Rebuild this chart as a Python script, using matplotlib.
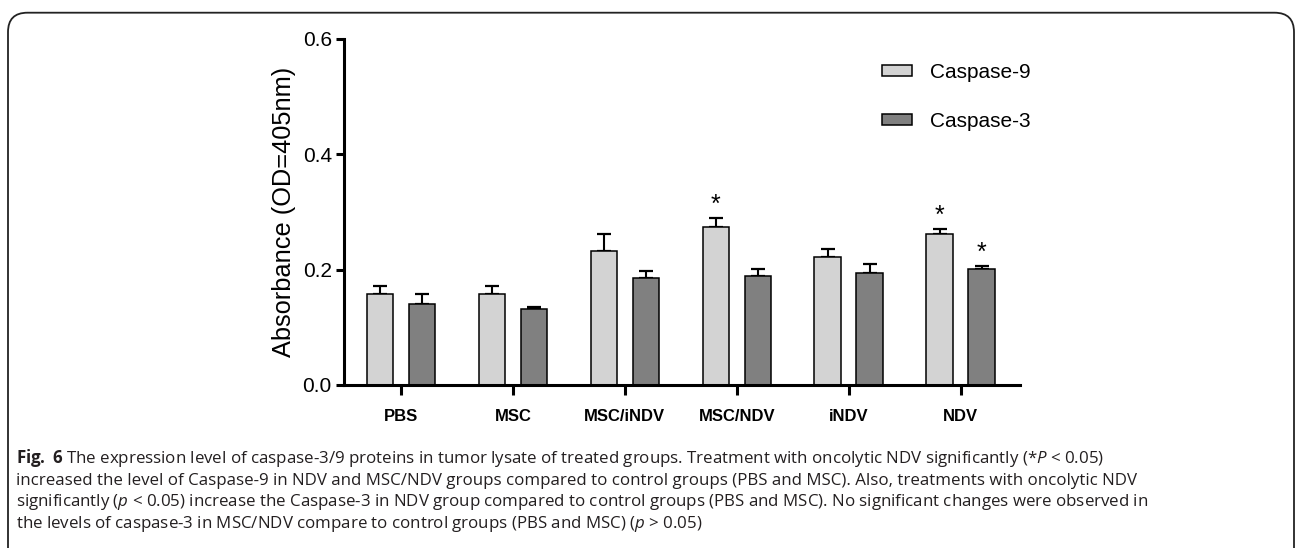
#!/usr/bin/env python3

"""Caspase-3/9 absorbance in tumour lysate of the treated groups (Fig. 6)."""

import numpy as np
import matplotlib
matplotlib.use('Agg')
import matplotlib.pyplot as plt
from matplotlib.patches import FancyBboxPatch

# Data
groups = ['PBS', 'MSC', 'MSC/iNDV', 'MSC/NDV', 'iNDV', 'NDV']
cas9 = [0.158, 0.158, 0.232, 0.274, 0.222, 0.261]
cas9Err = [0.013, 0.013, 0.029, 0.016, 0.013, 0.010]
cas3 = [0.141, 0.131, 0.185, 0.189, 0.195, 0.202]
cas3Err = [0.016, 0.005, 0.013, 0.012, 0.015, 0.005]
cas9Sig = [False, False, False, True, False, True]
cas3Sig = [False, False, False, False, False, True]
yTicks = [0.0, 0.2, 0.4, 0.6]

captionLines = [
    r'$\mathbf{Fig.}$ $\mathbf{6}$ The expression level of caspase-3/9 proteins in tumor lysate of treated groups. '
    r'Treatment with oncolytic NDV significantly (*$P$ < 0.05)',
    'increased the level of Caspase-9 in NDV and MSC/NDV groups compared to control groups (PBS and MSC). '
    'Also, treatments with oncolytic NDV',
    r'significantly ($p$ < 0.05) increase the Caspase-3 in NDV group compared to control groups (PBS and MSC). '
    'No significant changes were observed in',
    r'the levels of caspase-3 in MSC/NDV compare to control groups (PBS and MSC) ($p$ > 0.05)',
]

plt.rcParams['font.family'] = ['Liberation Sans', 'DejaVu Sans']
plt.rcParams['mathtext.fontset'] = 'custom'
plt.rcParams['mathtext.rm'] = 'Open Sans'
plt.rcParams['mathtext.it'] = 'Open Sans:italic'
plt.rcParams['mathtext.bf'] = 'Open Sans:bold'

W, H = 1295, 548
fig = plt.figure(figsize=(W / 100, H / 100), dpi=100)
ax = fig.add_axes([344 / W, 1 - 385 / H, (1020 - 344) / W, (385 - 39) / H])

x = np.arange(len(groups))
off = 0.1875
width = 0.238
light = '#d3d3d3'
dark = '#808080'

ax.bar(x - off, cas9, width, color=light, edgecolor='black', linewidth=1.1,
       label='Caspase-9', zorder=2)
ax.bar(x + off, cas3, width, color=dark, edgecolor='black', linewidth=1.1,
       label='Caspase-3', zorder=2)

# One-sided (upper) error bars
ax.errorbar(x - off, cas9, yerr=[np.zeros(len(x)), cas9Err], fmt='none',
            ecolor='black', elinewidth=1.5, capsize=4.8, capthick=1.6, zorder=1)
ax.errorbar(x + off, cas3, yerr=[np.zeros(len(x)), cas3Err], fmt='none',
            ecolor='black', elinewidth=1.5, capsize=4.8, capthick=1.6, zorder=1)

# Significance stars
for i in range(len(x)):
    if cas9Sig[i]:
        ax.text(x[i] - off, cas9[i] + cas9Err[i] + 0.002, '*', ha='center',
                va='bottom', fontsize=18)
    if cas3Sig[i]:
        ax.text(x[i] + off, cas3[i] + cas3Err[i] + 0.002, '*', ha='center',
                va='bottom', fontsize=18)

ax.set_xlim(-0.51, 5.53)
ax.set_ylim(0, 0.6)
ax.set_yticks(yTicks)
ax.set_yticklabels(['%.1f' % t for t in yTicks])
ax.set_xticks(x)
ax.set_xticklabels(groups, fontweight='bold', fontsize=12)

for side in ['top', 'right']:
    ax.spines[side].set_visible(False)
for side in ['left', 'bottom']:
    ax.spines[side].set_linewidth(2.2)

ax.tick_params(axis='y', length=5.8, width=2.2, pad=3, labelsize=15)
ax.tick_params(axis='x', length=7.2, width=2.2, pad=10)
ax.set_ylabel('Absorbance (OD=405nm)', fontsize=18.3, labelpad=5)

ax.legend(loc='upper left', bbox_to_anchor=(882 / W, 1 - 63 / H),
          bbox_transform=fig.transFigure, frameon=False, fontsize=15,
          handlelength=1.44, handleheight=0.42, handletextpad=0.87,
          labelspacing=1.45, borderpad=0, borderaxespad=0)

# Caption under the chart
for k, line in enumerate(captionLines):
    fig.text(16 / W, 1 - (463 + 21.7 * k) / H, line, family='Open Sans',
             fontsize=12.2, color='#231f20', va='baseline', ha='left')

# Rounded frame around the figure (open at the bottom edge)
frame = FancyBboxPatch((8 / W, -0.05), (1294 - 8) / W, (1 - 12.7 / H) + 0.05,
                       boxstyle='round,pad=0,rounding_size=0.015',
                       transform=fig.transFigure, facecolor='none',
                       edgecolor='#222222', linewidth=1.3, mutation_aspect=W / H)
fig.patches.append(frame)

plt.savefig('out.png', dpi=100)
